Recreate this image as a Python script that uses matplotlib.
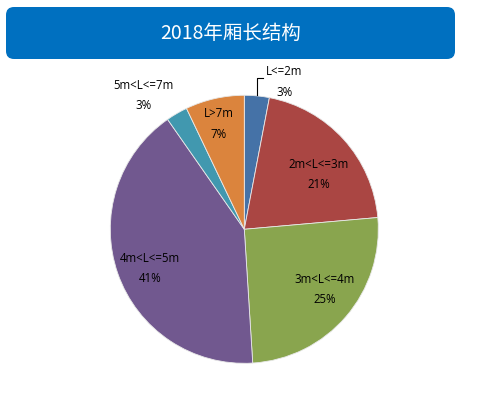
import matplotlib.pyplot as plt
from matplotlib.patches import FancyBboxPatch

# slice data, clockwise from 12 o'clock
categories = ["L<=2m", "2m<L<=3m", "3m<L<=4m", "4m<L<=5m", "5m<L<=7m", "L>7m"]
shares = [3.0, 20.6, 25.4, 41.3, 2.6, 7.1]
colors = ["#4572A7", "#AA4643", "#89A54E", "#71588F", "#4198AF", "#DB843D"]
title = "2018年厢长结构"

# where each label sits, in pie-radius units
label_pos = [(0.30, 1.10), (0.557, 0.409), (0.599, -0.449),
             (-0.706, -0.294), (-0.751, 1.0), (-0.189, 0.784)]

fig = plt.figure(figsize=(4.81, 3.98), dpi=100)

# banner behind everything, in pixel units
bg = fig.add_axes([0, 0, 1, 1])
bg.set_xlim(0, 481)
bg.set_ylim(398, 0)
bg.axis("off")
bg.add_patch(FancyBboxPatch((6, 7), 449, 52, boxstyle="round,pad=0,rounding_size=8",
                            fc="#0070C0", ec="none"))
bg.text(230.5, 33.5, title, color="white", fontsize=14, ha="center", va="center",
        family=["Noto Sans CJK SC", "DejaVu Sans"])

# pie
ax = fig.add_axes([0.2293, 0.0872, 0.5572, 0.6734])
ax.pie(shares, colors=colors, startangle=90, counterclock=False,
       wedgeprops=dict(edgecolor="#e8e8e8", linewidth=0.6))
ax.set_xlim(-1, 1)
ax.set_ylim(-1, 1)
ax.set_aspect("equal")
ax.axis("off")

for name, val, (x, y) in zip(categories, shares, label_pos):
    ax.text(x, y, f"{name}\n{val:.0f}%", ha="center", va="center", fontsize=8.3,
            family="Open Sans", linespacing=1.75, clip_on=False)

# leader line for the small top slice
ax.plot([0.095, 0.095, 0.14], [1.0, 1.13, 1.13], color="black", lw=0.8, clip_on=False)

fig.savefig("out.png", dpi=100)
